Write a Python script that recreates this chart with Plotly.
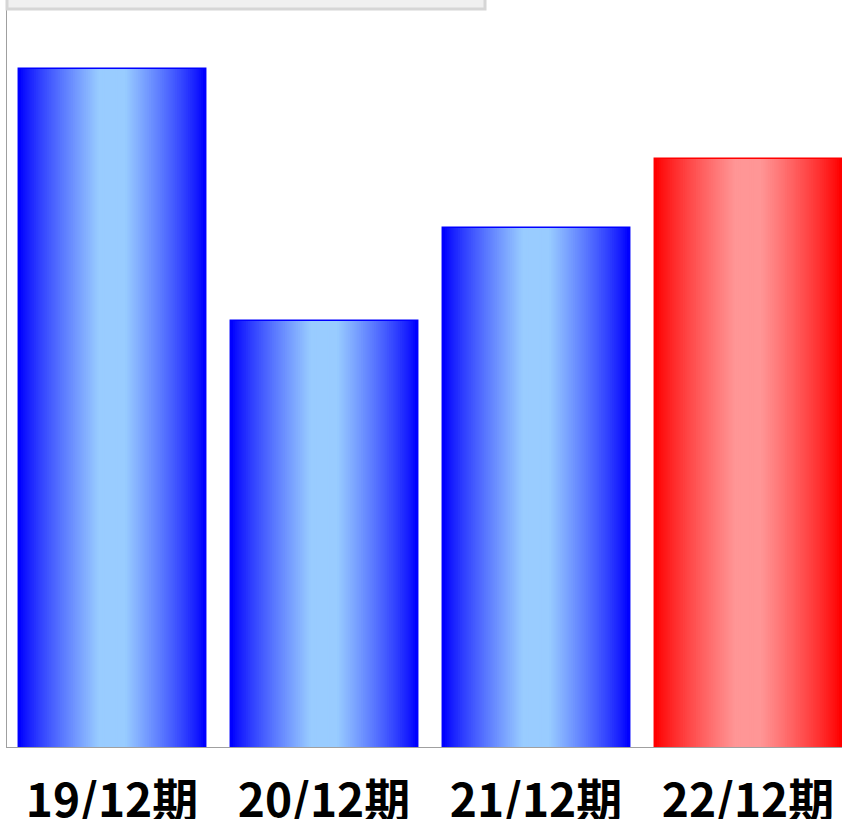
import plotly.graph_objects as go

categories = ["19/12期", "20/12期", "21/12期", "22/12期"]
values = [678, 426, 519, 588]
edge_colors = [(0, 0, 255), (0, 0, 255), (0, 0, 255), (255, 0, 0)]
center_colors = [(153, 204, 255), (153, 204, 255), (153, 204, 255), (255, 150, 150)]

BAR_W = 0.877
N = 50
PLATEAU = 0.15

def mix(a, b, t):
    return "rgb(%d,%d,%d)" % tuple(round(a[i] + (b[i] - a[i]) * t) for i in range(3))

fig = go.Figure()
for k in range(N):
    f = 1 - k / N
    t = min(1.0, (1 - f) / (1 - PLATEAU)) ** 0.85
    w = BAR_W * f
    cols = [mix(e, c, t) for e, c in zip(edge_colors, center_colors)]
    line = dict(width=0)
    if k == 0:
        line = dict(width=3, color=["rgb(%d,%d,%d)" % e for e in edge_colors])
    fig.add_trace(go.Bar(
        x=categories, y=values, width=w,
        marker=dict(color=cols, line=line),
        hoverinfo="skip", showlegend=False,
    ))

W, H = 842, 819
ml, mt, mb = 7, 0, 72
pw = W - ml
fig.update_layout(
    width=W, height=H,
    margin=dict(l=ml, r=0, t=mt, b=mb),
    barmode="overlay",
    plot_bgcolor="white", paper_bgcolor="white",
    xaxis=dict(
        range=[-0.5 + 1 / 212, -0.5 + (pw + 1) / 212], automargin=False,
        showline=True, linecolor="#a0a0a0", linewidth=1,
        showgrid=False, ticks="", ticklabelstandoff=14,
        tickfont=dict(family="Noto Sans CJK JP", size=46, color="black", weight="bold"),
    ),
    yaxis=dict(
        range=[0, 747], automargin=False, showline=True, linecolor="#a0a0a0", linewidth=1,
        showgrid=False, showticklabels=False, ticks="", zeroline=False,
    ),
    shapes=[dict(
        type="rect", xref="paper", yref="paper",
        x0=0.0, x1=(485 - ml) / pw, y0=(747 - 9) / 747, y1=1.05,
        fillcolor="#f0f0f0", line=dict(color="#d6d6d6", width=3), layer="above",
    )],
)
fig.write_html(
    "out.html",
    config={"displayModeBar": False, "staticPlot": True},
    post_script="document.body.style.margin='0';document.body.style.overflow='hidden';",
)
